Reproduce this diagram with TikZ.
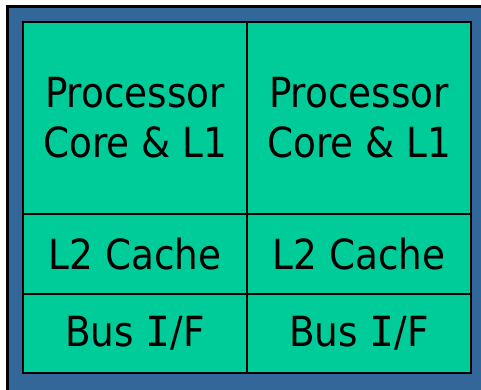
\documentclass[tikz,border=0pt]{standalone}
\usepackage{fontspec}
\setmainfont{DejaVu Sans Condensed}
\newfontfamily\serifI{DejaVu Sans Mono}
\newcommand{\barI}{{\serifI I}}
\definecolor{dieblue}{HTML}{336699}
\definecolor{unitgreen}{HTML}{00CC99}
\tikzset{
  unit/.style={draw=black, line width=2pt, fill=unitgreen, inner sep=0pt, outer sep=0pt,
    anchor=north west, align=center, font=\fontsize{41.5}{50}\selectfont},
}
\begin{document}
\begin{tikzpicture}[x=1pt,y=-1pt]
  \useasboundingbox (0,0) rectangle (481,389);
  \clip (0,0) rectangle (481,389);
  % die background
  \fill[white] (0,0) rectangle (481,389);
  \fill[dieblue] (6,5) rectangle (490,395);
  \draw[line width=2.5pt] (7.25,395) -- (7.25,6.25) -- (490,6.25);
  % left core
  \node[unit, minimum width=224pt, minimum height=192pt] (core1) at (23,22) {Processor\\Core \& L1};
  \node[unit, minimum width=224pt, minimum height=80pt] (l21) at (23,214) {L2 Cache};
  \node[unit, minimum width=224pt, minimum height=79pt] (bus1) at (23,294) {Bus \barI/F};
  % right core
  \node[unit, minimum width=224pt, minimum height=192pt] (core2) at (247,22) {Processor\\Core \& L1};
  \node[unit, minimum width=224pt, minimum height=80pt] (l22) at (247,214) {L2 Cache};
  \node[unit, minimum width=224pt, minimum height=79pt] (bus2) at (247,294) {Bus \barI/F};
  % outer frame of the core area
  \draw[line width=2.5pt] (core1.north west) rectangle (bus2.south east);
\end{tikzpicture}
\end{document}
